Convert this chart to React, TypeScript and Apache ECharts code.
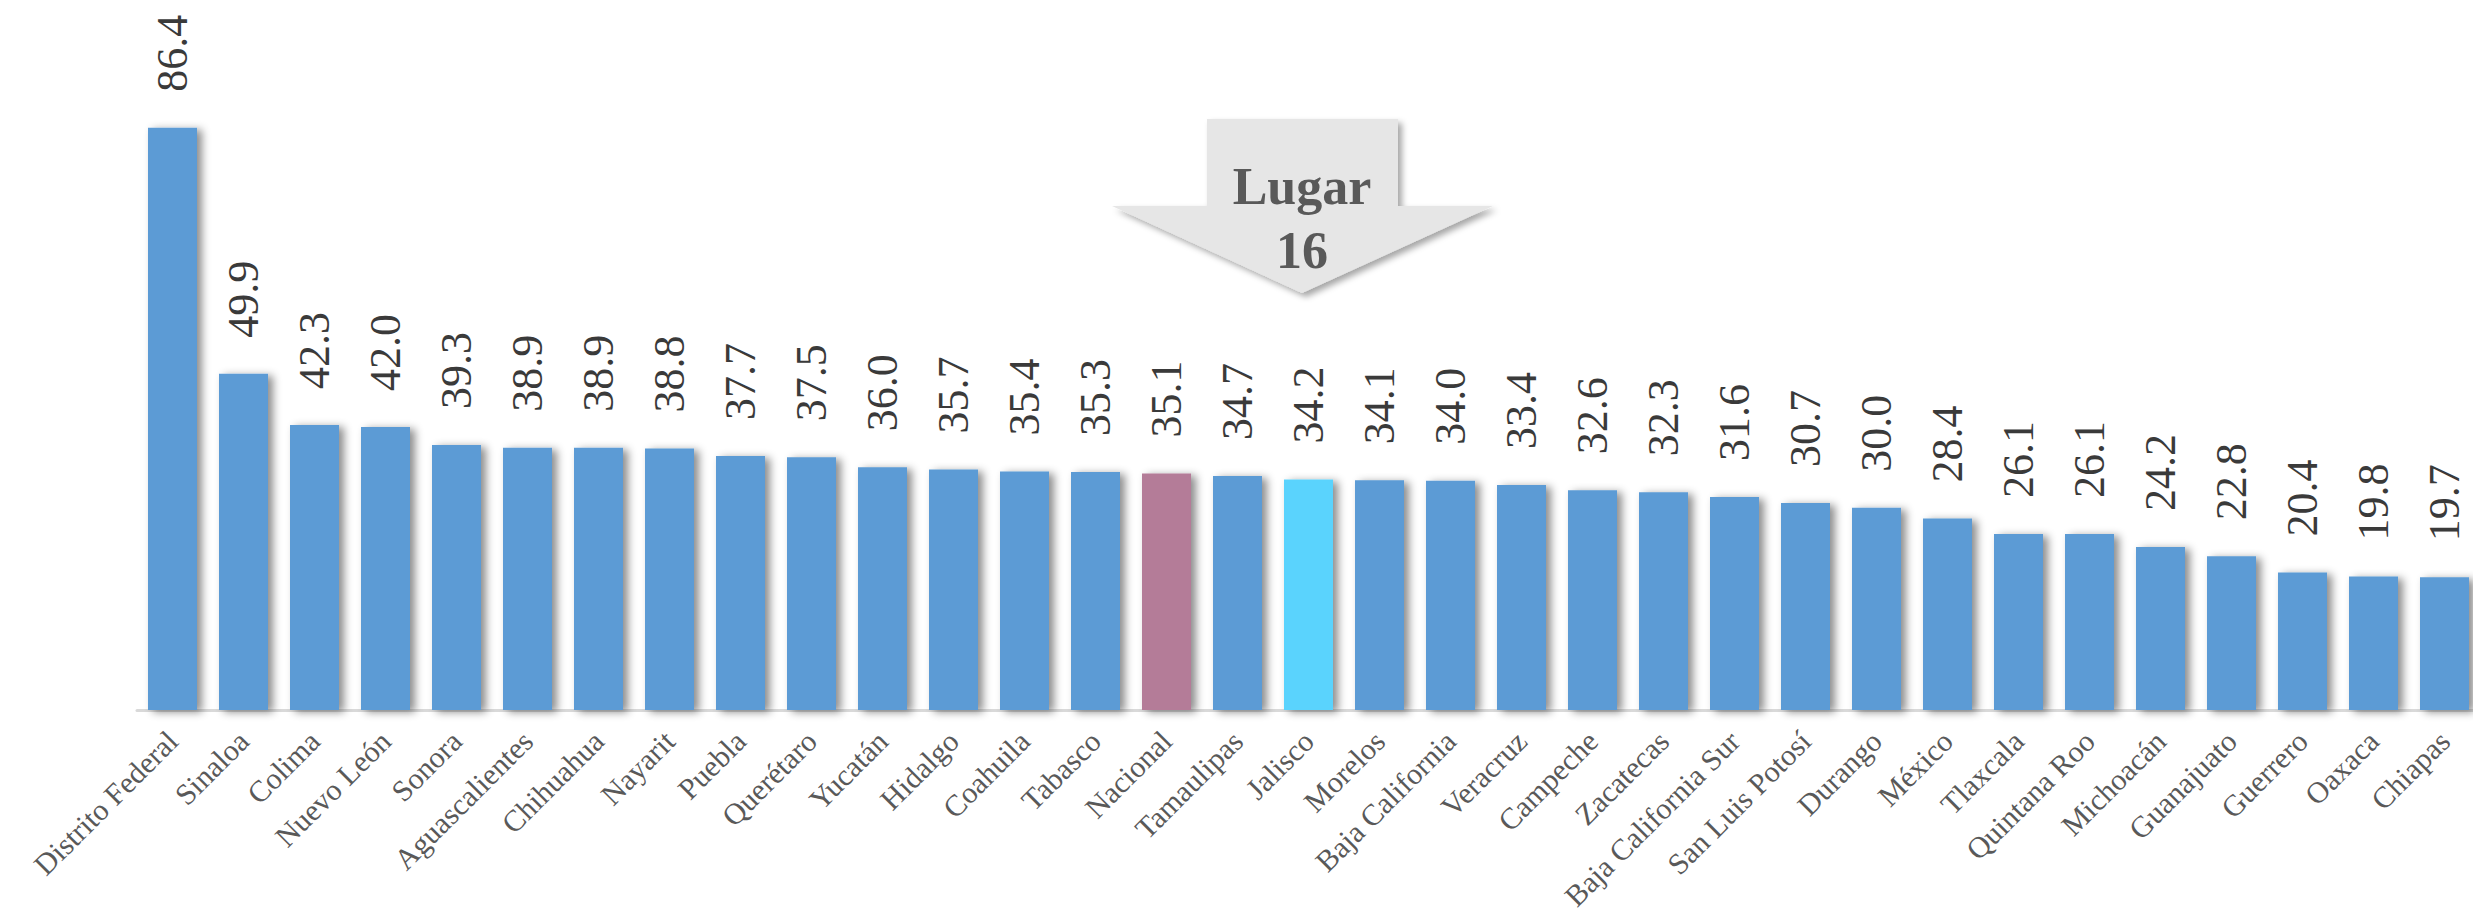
import React, { useEffect, useRef } from "react";
import * as echarts from "echarts";

const categories = [
  "Distrito Federal", "Sinaloa", "Colima", "Nuevo León", "Sonora", "Aguascalientes",
  "Chihuahua", "Nayarit", "Puebla", "Querétaro", "Yucatán", "Hidalgo", "Coahuila",
  "Tabasco", "Nacional", "Tamaulipas", "Jalisco", "Morelos", "Baja California",
  "Veracruz", "Campeche", "Zacatecas", "Baja California Sur", "San Luis Potosí",
  "Durango", "México", "Tlaxcala", "Quintana Roo", "Michoacán", "Guanajuato",
  "Guerrero", "Oaxaca", "Chiapas",
];

const values = [
  86.4, 49.9, 42.3, 42.0, 39.3, 38.9, 38.9, 38.8, 37.7, 37.5, 36.0, 35.7, 35.4,
  35.3, 35.1, 34.7, 34.2, 34.1, 34.0, 33.4, 32.6, 32.3, 31.6, 30.7, 30.0, 28.4,
  26.1, 26.1, 24.2, 22.8, 20.4, 19.8, 19.7,
];

const highlightNational = "Nacional";
const highlightState = "Jalisco";
const calloutLines = ["Lugar", "16"];

const BAR = "#5B9BD5";
const NAT = "#B47B98";
const JAL = "#5AD3FD";
const SERIF = "Liberation Serif";

export default function App() {
  const ref = useRef<HTMLDivElement>(null);
  useEffect(() => {
    if (!ref.current) return;
    const chart = echarts.init(ref.current, null, { renderer: "svg" });
    const data = values.map((v, i) => {
      const c = categories[i];
      const color = c === highlightNational ? NAT : c === highlightState ? JAL : BAR;
      return { value: v, itemStyle: { color } };
    });
    chart.setOption({
      animation: false,
      backgroundColor: "#ffffff",
      textStyle: { fontFamily: SERIF },
      grid: {
        left: 137,
        top: 36,
        width: 2343,
        height: 674,
        containLabel: false,
        outerBoundsMode: "none",
      },
      xAxis: {
        type: "category",
        data: categories,
        axisLine: { show: true, lineStyle: { color: "#d9d9d9", width: 3 } },
        axisTick: { show: false },
        axisLabel: {
          interval: 0,
          rotate: 45,
          margin: 26,
          fontSize: 30,
          fontFamily: SERIF,
          color: "#595959",
        },
      },
      yAxis: {
        type: "value",
        min: 0,
        max: 100,
        show: false,
        splitLine: { show: false },
      },
      series: [
        {
          type: "bar",
          data,
          barWidth: 49,
          itemStyle: {
            shadowColor: "rgba(0,0,0,0.45)",
            shadowBlur: 8,
            shadowOffsetX: 5,
            shadowOffsetY: 2,
          },
          label: {
            show: true,
            position: "top",
            rotate: 90,
            align: "left",
            verticalAlign: "middle",
            distance: 36,
            fontSize: 44,
            fontFamily: SERIF,
            fontWeight: "normal",
            color: "#3a3a3a",
            formatter: (p: any) => "{v|" + Number(p.value).toFixed(1) + "}",
            rich: {
              v: {
                fontSize: 44,
                fontFamily: SERIF,
                color: "#3a3a3a",
              },
            },
          },
        },
      ],
      graphic: [
        {
          type: "polygon",
          shape: {
            points: [
              [1207, 119], [1398, 119], [1398, 206], [1493, 206],
              [1302, 293], [1112, 206], [1207, 206],
            ],
          },
          style: {
            fill: "#e6e6e6",
            shadowColor: "rgba(0,0,0,0.35)",
            shadowBlur: 6,
            shadowOffsetX: 4,
            shadowOffsetY: 4,
          },
        },
        {
          type: "text",
          x: 1302,
          y: 212,
          style: {
            text: calloutLines[0],
            fontSize: 52,
            fontWeight: "bold",
            fontFamily: SERIF,
            fill: "#595959",
            align: "center",
            verticalAlign: "bottom",
          },
        },
        {
          type: "text",
          x: 1302,
          y: 276,
          style: {
            text: calloutLines[1],
            fontSize: 52,
            fontWeight: "bold",
            fontFamily: SERIF,
            fill: "#595959",
            align: "center",
            verticalAlign: "bottom",
          },
        },
      ],
    });
    return () => chart.dispose();
  }, []);
  return (
    <div
      ref={ref}
      style={{ position: "absolute", left: 0, top: 0, width: 2473, height: 917 }}
    />
  );
}
